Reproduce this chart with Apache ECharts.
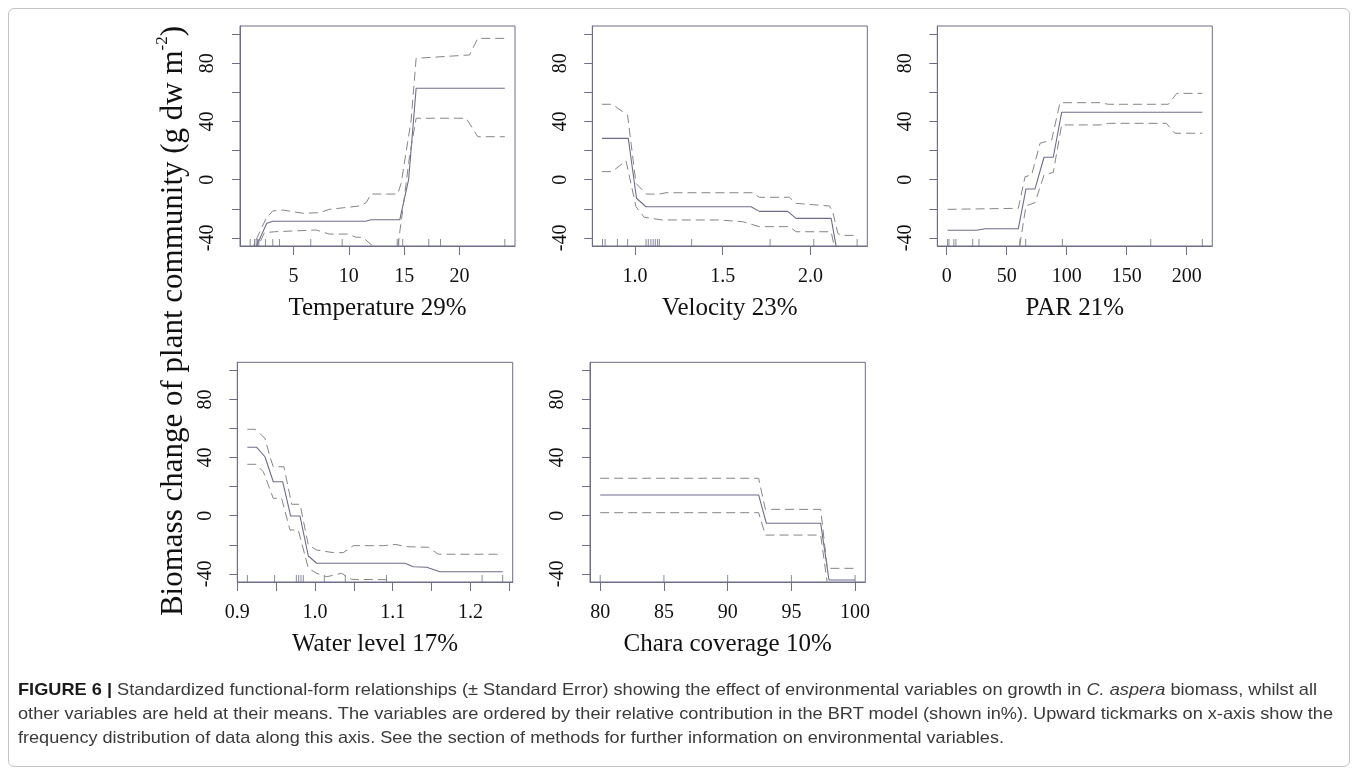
<!DOCTYPE html>
<html>
<head>
<meta charset="utf-8">
<title>Figure 6</title>
<script src="https://cdn.jsdelivr.net/npm/echarts@6/dist/echarts.min.js"></script>
<style>
  html, body { margin: 0; padding: 0; background: #fff; }
  #wrap { position: relative; width: 1358px; height: 775px; overflow: hidden; }
  #chart { position: absolute; left: 0; top: 0; width: 1358px; height: 775px; }
  #frame {
    position: absolute; left: 8px; top: 8px; width: 1340px; height: 757px;
    border: 1px solid #c4c4c4; border-radius: 6px; pointer-events: none;
  }
  #caption {
    position: absolute; left: 18px; top: 678px;
    font-family: 'Liberation Sans', Arial, sans-serif; font-size: 17px; line-height: 24px;
    color: #3a3a3a; white-space: nowrap;
  }
  #caption div { transform-origin: 0 50%; width: max-content; }
  #caption b { color: #1a1a1a; }
</style>
</head>
<body>
<div id="wrap">
  <div id="chart"></div>
  <div id="frame"></div>
  <div id="caption">
    <div><b>FIGURE 6 |</b> Standardized functional-form relationships (± Standard Error) showing the effect of environmental variables on growth in <i>C. aspera</i> biomass, whilst all</div>
    <div>other variables are held at their means. The variables are ordered by their relative contribution in the BRT model (shown in%). Upward tickmarks on x-axis show the</div>
    <div>frequency distribution of data along this axis. See the section of methods for further information on environmental variables.</div>
  </div>
</div>
<script>
// 纵轴（各面板共用）
const yRange = [-45.6, 105.6]
const yTicks = [-40, -20, 0, 20, 40, 60, 80, 100]
const yLabels = [-40, 0, 40, 80]

// Temperature 29%
const tempRange = [0.17, 25.01]
const tempTicks = [5, 10, 15, 20]
const tempRug = [1.09, 1.48, 1.63, 1.75, 1.87, 2.47, 3.13, 3.74, 6.56, 9.4, 14.37, 14.51, 14.87, 17.22, 18.28, 24.09]
const tempFit = [[1.09, -55], [2.59, -30], [3.13, -28.6], [11.5, -28.6], [12.0, -27.6], [14.6, -27.6], [15.4, 0], [16.08, 62.8], [24.09, 62.8]]
const tempUpper = [[1.09, -50], [2.53, -26.6], [3.13, -21.5], [4.03, -20.9], [5.84, -23.1], [7.35, -22.7], [8.25, -20.4], [10.96, -18.1], [11.57, -15.8], [12.0, -9.9], [14.4, -9.9], [14.73, -2.5], [15.63, 41], [16.08, 83.4], [20.9, 85.7], [21.65, 97.1], [24.09, 97.1]]
const tempLower = [[1.09, -60], [1.78, -46], [2.38, -36.5], [3.28, -35.8], [7.05, -34.6], [8.25, -37.4], [9.9, -37.4], [10.66, -39.6], [11.26, -39.6], [12.16, -45.6], [12.5, -50], [14.2, -50], [14.42, -46], [14.87, -20.9], [15.48, 15.8], [16.08, 42.2], [20.6, 42.2], [21.65, 29.5], [24.09, 29.5]]

// Velocity 23%
const velRange = [0.757, 2.324]
const velTicks = [1.0, 1.5, 2.0]
const velRug = [0.815, 0.83, 0.9, 0.958, 1.063, 1.076, 1.091, 1.104, 1.116, 1.129, 1.139, 1.323, 1.77, 2.019, 2.266]
const velFit = [[0.812, 28.4], [0.962, 28.4], [1.009, -12.8], [1.063, -18.6], [1.662, -18.6], [1.709, -21.8], [1.87, -21.8], [1.918, -26.6], [2.118, -26.6], [2.16, -55], [2.266, -55]]
const velUpper = [[0.812, 51.8], [0.87, 51.8], [0.958, 44.4], [1.006, -2.5], [1.063, -9.9], [1.139, -9.9], [1.177, -9.0], [1.671, -9.0], [1.709, -12.1], [1.88, -12.1], [1.918, -16.3], [2.108, -18.1], [2.127, -22], [2.156, -36.9], [2.175, -38.3], [2.266, -38.3]]
const velLower = [[0.812, 5.5], [0.87, 5.5], [0.949, 13.0], [1.006, -18.6], [1.053, -25.9], [1.157, -27.7], [1.481, -27.7], [1.614, -28.9], [1.709, -32.3], [1.88, -32.3], [1.918, -35.8], [2.118, -35.8], [2.16, -60], [2.266, -60]]

// PAR 21%
const parRange = [-7.8, 221.3]
const parTicks = [0, 50, 100, 150, 200]
const parRug = [0.8, 1.9, 6, 7.7, 21.7, 26.9, 61, 65.8, 96.4, 170, 213]
const parFit = [[0.8, -34.8], [25, -34.8], [31.9, -33.7], [59.7, -33.7], [66.1, -6.4], [73.6, -6.4], [81.1, 15.4], [88.8, 15.4], [95.8, 46.3], [213, 46.3]]
const parUpper = [[0.8, -20.4], [59.7, -19.7], [65.3, 2.0], [70.8, 3.2], [77.8, 25.0], [87.5, 27.3], [94.4, 52.9], [127.8, 52.9], [134.7, 51.8], [184.7, 51.8], [191.7, 59.3], [213, 59.3]]
const parLower = [[59, -55], [66.1, -18], [73.6, -15.8], [81.1, 3.2], [88.8, 5], [95.8, 37.6], [127.8, 37.6], [134.7, 38.7], [183, 38.7], [190, 31.9], [213, 31.9]]

// Water level 17%
const waterRange = [0.9, 1.2544]
const waterTicks = [0.9, 0.95, 1.0, 1.05, 1.1, 1.15, 1.2, 1.25]
const waterLabels = [0.9, 1.0, 1.1, 1.2]
const waterRug = [0.913, 0.948, 0.976, 0.979, 0.982, 0.985, 1.012, 1.039, 1.092, 1.215, 1.2415]
const waterFit = [[0.9129, 47.1], [0.925, 47.1], [0.9356, 40.6], [0.9463, 23.4], [0.9584, 23.4], [0.9687, -0.2], [0.9807, -0.2], [0.9914, -27.7], [1.0022, -32.7], [1.1158, -32.7], [1.1265, -35.1], [1.1437, -35.5], [1.1608, -38.5], [1.2415, -38.5]]
const waterUpper = [[0.9129, 59.5], [0.9228, 59.5], [0.9356, 53.3], [0.942, 40.6], [0.9463, 33.7], [0.96, 33.7], [0.97, 7.9], [0.9807, 7.9], [0.9914, -20.1], [1.0022, -23.6], [1.0235, -25.4], [1.0364, -25.4], [1.0493, -20.6], [1.0879, -20.6], [1.103, -19.7], [1.118, -21.3], [1.1458, -21.7], [1.1587, -26.5], [1.2415, -26.5]]
const waterLower = [[0.9129, 35.4], [0.924, 35.4], [0.9335, 30.3], [0.9463, 12.0], [0.957, 12.0], [0.9678, -9.8], [0.9785, -9.8], [0.9914, -36.2], [1.0022, -39.6], [1.015, -42.0], [1.0343, -39.6], [1.0472, -43.8], [1.0922, -44.0], [1.1, -50], [1.2415, -50]]

// Chara coverage 10%
const charaRange = [79.2, 100.8]
const charaTicks = [80, 85, 90, 95, 100]
const charaRug = [80, 85, 90, 95, 100]
const charaFit = [[80, 14.3], [92.43, 14.3], [93.04, -5.2], [97.3, -5.2], [97.95, -44.2], [100, -44.2]]
const charaUpper = [[80, 25.8], [92.43, 25.8], [92.96, 4.4], [97.3, 4.4], [97.82, -36.2], [100, -36.2]]
const charaLower = [[80, 2.1], [92.43, 2.1], [92.96, -13.3], [97.3, -13.3], [97.95, -55], [100, -55]]

const serif = 'Liberation Serif'
const axisColor = '#6d6d8b'
const fitColor = '#6d6d8b'
const dashColor = '#858585'

// 面板布局：left, top, width, height
const panels = [
  { name: 'Temperature 29%', box: [240, 26, 275, 220], range: tempRange, ticks: tempTicks, labels: tempTicks, rug: tempRug, fit: tempFit, upper: tempUpper, lower: tempLower, digits: 0 },
  { name: 'Velocity 23%', box: [592.3, 26, 275, 220], range: velRange, ticks: velTicks, labels: velTicks, rug: velRug, fit: velFit, upper: velUpper, lower: velLower, digits: 1 },
  { name: 'PAR 21%', box: [937.3, 26, 275, 220], range: parRange, ticks: parTicks, labels: parTicks, rug: parRug, fit: parFit, upper: parUpper, lower: parLower, digits: 0 },
  { name: 'Water level 17%', box: [237.3, 362.3, 275.4, 219.7], range: waterRange, ticks: waterTicks, labels: waterLabels, rug: waterRug, fit: waterFit, upper: waterUpper, lower: waterLower, digits: 1 },
  { name: 'Chara coverage 10%', box: [590, 362.3, 275.3, 219.7], range: charaRange, ticks: charaTicks, labels: charaTicks, rug: charaRug, fit: charaFit, upper: charaUpper, lower: charaLower, digits: 0 }
]

const grid = []
const xAxis = []
const yAxis = []
const series = []

const tickFont = { fontFamily: serif, fontSize: 20, color: '#111' }

panels.forEach((p, i) => {
  grid.push({
    left: p.box[0], top: p.box[1], width: p.box[2], height: p.box[3],
    show: true, borderColor: axisColor, borderWidth: 1, backgroundColor: 'transparent',
    containLabel: false, outerBoundsMode: 'none'
  })

  xAxis.push({
    type: 'value', gridIndex: i, min: p.range[0], max: p.range[1], position: 'bottom',
    name: p.name, nameLocation: 'middle', nameGap: 50,
    nameTextStyle: { fontFamily: serif, fontSize: 25, color: '#111' },
    axisLine: { show: true, onZero: false, lineStyle: { color: axisColor, width: 1 } },
    axisTick: { show: true, inside: false, length: 9, customValues: p.ticks, lineStyle: { color: axisColor, width: 1 } },
    axisLabel: {
      show: true, margin: 21, customValues: p.labels, hideOverlap: false,
      ...tickFont,
      formatter: v => Number(v).toFixed(p.digits)
    },
    splitLine: { show: false }
  })

  yAxis.push({
    type: 'value', gridIndex: i, min: yRange[0], max: yRange[1], position: 'left',
    axisLine: { show: true, onZero: false, lineStyle: { color: axisColor, width: 1 } },
    axisTick: { show: true, inside: false, length: 8, customValues: yTicks, lineStyle: { color: axisColor, width: 1 } },
    axisLabel: {
      show: true, rotate: 90, margin: 22, customValues: yLabels, hideOverlap: false,
      ...tickFont
    },
    splitLine: { show: false }
  })

  const base = { type: 'line', xAxisIndex: i, yAxisIndex: i, symbol: 'none', showSymbol: false, silent: true, clip: true, animation: false }
  series.push({ ...base, data: p.fit, lineStyle: { color: fitColor, width: 1.1 } })
  series.push({ ...base, data: p.upper, lineStyle: { color: dashColor, width: 1, type: [9, 5] } })
  series.push({ ...base, data: p.lower, lineStyle: { color: dashColor, width: 1, type: [9, 5] } })

  // 数据分布（向上的 rug 刻度），贴在纵轴下限
  series.push({
    type: 'scatter', xAxisIndex: i, yAxisIndex: i, silent: true, clip: false, animation: false,
    symbol: 'rect', symbolSize: [1, 7], symbolOffset: [0, '-50%'],
    itemStyle: { color: axisColor },
    data: p.rug.map(v => [v, yRange[0]])
  })
})

const chart = echarts.init(document.getElementById('chart'))
chart.setOption({
  animation: false,
  backgroundColor: 'transparent',
  textStyle: { fontFamily: serif, fontSize: 20 },
  grid, xAxis, yAxis, series,
  graphic: [{
    type: 'text', x: 172, y: 321, rotation: Math.PI / 2,
    style: {
      text: '{n|Biomass change of plant community (g dw m}{s|-2}{n|)}',
      align: 'center', verticalAlign: 'middle',
      rich: {
        n: { fontFamily: serif, fontSize: 31, lineHeight: 35, fill: '#111', verticalAlign: 'bottom' },
        s: { fontFamily: serif, fontSize: 17, lineHeight: 35, fill: '#111', verticalAlign: 'top' }
      }
    }
  }]
})

// 图注每行压缩到原图宽度
const captionWidths = [1299, 1315, 986]
document.querySelectorAll('#caption div').forEach((el, k) => {
  const w = el.getBoundingClientRect().width
  el.style.transform = 'scaleX(' + (captionWidths[k] / w).toFixed(4) + ')'
})
</script>
</body>
</html>
